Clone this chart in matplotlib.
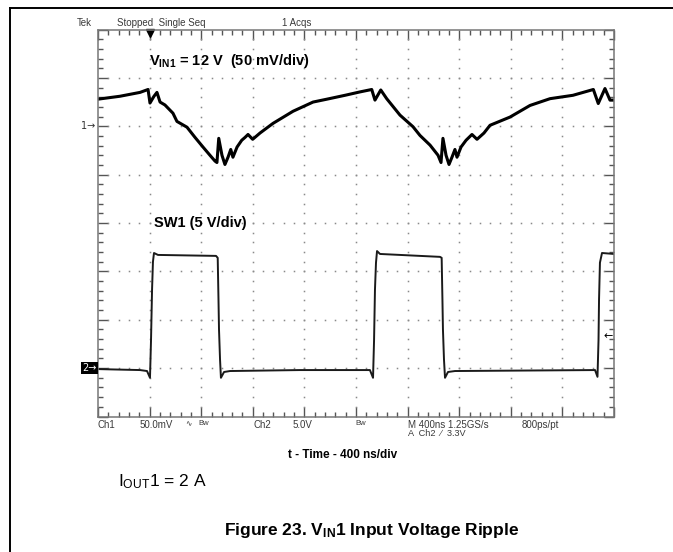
import matplotlib
matplotlib.use("Agg")
import matplotlib.pyplot as plt
from matplotlib.lines import Line2D
import numpy as np

plt.rcParams['font.family'] = ['Liberation Sans', 'DejaVu Sans']
plt.rcParams['mathtext.fontset'] = 'custom'
plt.rcParams['mathtext.rm'] = 'Liberation Sans'
plt.rcParams['mathtext.bf'] = 'Liberation Sans:bold'

# scope settings
t_div = 400.0      # ns/div
ch1_div = 50.0     # mV/div
ch2_div = 5.0      # V/div
ch1_ref = 6.0      # ground marker position (div from bottom)
ch2_ref = 1.0
trig_level = 3.3   # V
trig_pos = 400.0   # ns

# CH1: VIN1 ripple (ns, mV relative to marker)
ch1_t = [0, 170, 326, 388, 403, 434, 457, 481, 519, 581, 612, 690, 752, 814, 868,
         907, 922, 936, 961, 984, 1008, 1029, 1046, 1078, 1114, 1140, 1163, 1199,
         1256, 1357, 1512, 1667, 1775, 1915, 2031, 2122, 2147, 2192, 2238, 2341,
         2442, 2496, 2574, 2636, 2659, 2674, 2698, 2721, 2744, 2767, 2783, 2814,
         2853, 2899, 2938, 2992, 3039, 3194, 3349, 3504, 3682, 3840, 3878, 3930,
         3969, 4000]
ch1_mv = [28, 31, 35, 38, 24, 31, 35, 25, 22, 13.5, 5, -1, -11.5, -21.5, -30,
          -36, -37.5, -12.5, -30, -39.5, -32, -24, -32, -21.5, -14.5, -11.5, -8.5,
          -13.5, -7, 3, 15.5, 25, 28, 32, 35.5, 38, 27, 37.5, 28.5, 11.5,
          -0.5, -9.5, -19.5, -30, -37.5, -12.5, -30, -39.5, -32, -24, -32, -21.5,
          -14.5, -8.5, -13.5, -7, 1, 9.5, 21.5, 28.5, 32, 38, 23.5, 39,
          27, 27]

# CH2: SW1 node (ns, V)
ch2_t = [0, 326, 380, 403, 411, 419, 426, 434, 465, 915, 928, 934, 938, 946, 953,
         977, 1023, 1566, 2108, 2132, 2140, 2147, 2155, 2163, 2186, 2651, 2664,
         2670, 2674, 2682, 2690, 2713, 2767, 3853, 3872, 3880, 3884, 3891, 3907, 4000]
ch2_v = [-0.1, -0.2, -0.3, -1.0, 2.9, 8.1, 11.0, 11.9, 11.7, 11.6, 11.4, 7.1, 4.0, 0.9, -1.0,
         -0.4, -0.3, -0.2, -0.2, -1.0, 2.9, 8.1, 10.9, 12.1, 11.8, 11.5, 11.4,
         7.1, 4.0, 0.9, -1.0, -0.4, -0.3, -0.2, -0.9, 2.9, 7.1, 10.9, 11.9, 11.8]

W, H = 673, 552


def px(x, y):
    return x / W, 1 - y / H


fig = plt.figure(figsize=(W / 100, H / 100), dpi=100)
fig.add_artist(Line2D([10 / W, 1], [1 - 8 / H] * 2, color='black', lw=1.4))
fig.add_artist(Line2D([10 / W] * 2, [1 - 8 / H, 0], color='black', lw=1.4))

left, top, right, bottom = 98, 29.5, 614, 416.5
ax = fig.add_axes([left / W, 1 - bottom / H, (right - left) / W, (bottom - top) / H])
ax.set_xlim(0, 10)
ax.set_ylim(0, 8)
for s in ax.spines.values():
    s.set_color('#777777')
    s.set_linewidth(1.1)
ax.set_xticks(np.arange(0, 11, 1))
ax.set_yticks(np.arange(0, 9, 1))
ax.set_xticks(np.arange(0, 10.01, 0.2), minor=True)
ax.set_yticks(np.arange(0, 8.01, 0.2), minor=True)
ax.tick_params(which='both', direction='in', top=True, right=True,
               labelbottom=False, labelleft=False, color='#555555', width=1.0)
ax.tick_params(which='major', length=7)
ax.tick_params(which='minor', length=3.5)

# dotted graticule
for gx in range(1, 10):
    yy = np.arange(0.2, 8, 0.2)
    ax.plot(np.full_like(yy, gx), yy, ls='none', marker='s', ms=1.1, color='#8a8a8a', mew=0)
for gy in range(1, 8):
    xx = np.arange(0.2, 10, 0.2)
    ax.plot(xx, np.full_like(xx, gy), ls='none', marker='s', ms=1.1, color='#8a8a8a', mew=0)

ax.plot(np.array(ch2_t) / t_div, ch2_ref + np.array(ch2_v) / ch2_div, color='#1a1a1a', lw=1.4)
ax.plot(np.array(ch1_t) / t_div, ch1_ref + np.array(ch1_mv) / ch1_div, color='black', lw=2.2)

# trigger position marker
ax.plot([trig_pos / t_div], [7.93], marker='v', ms=6, color='black', clip_on=False)

# screen annotations
ax.text(0.98, 8 - 0.65, r'$\mathbf{V_{IN1}}$ = 12 V  (50 mV/div)', fontsize=10.5,
        fontweight='bold', va='center', ha='left')
ax.text(1.08, 4.0, 'SW1 (5 V/div)', fontsize=10.5, fontweight='bold', va='center', ha='left')
ax.text(9.98, ch2_ref + trig_level / ch2_div, '\u2190', fontsize=8, ha='right', va='center',
        family='DejaVu Sans')

fig.text(*px(98, 126), '1\u2192 ', fontsize=7, ha='right', va='center', family='DejaVu Sans',
         color='#333333')
fig.text(*px(97, 368), '2\u2192', fontsize=7, ha='right', va='center', family='DejaVu Sans',
         color='white', bbox=dict(boxstyle='square,pad=0.15', fc='black', ec='none'))

small = dict(fontsize=7.0, color='#3a3a3a', va='center', ha='left')
fig.text(*px(77, 23), 'Tek', **small)
fig.text(*px(117, 23), 'Stopped  Single Seq', **small)
fig.text(*px(282, 23), '1 Acqs', **small)

fig.text(*px(98, 424.5), 'Ch1', **small)
fig.text(*px(140, 424.5), '50.0mV', **small)
fig.text(*px(185, 424.5), '\u223f', fontsize=5.5, color='#3a3a3a', va='center', ha='left')
fig.text(*px(198, 423.5), 'Bw', fontsize=5.5, color='#3a3a3a', va='center', ha='left')
fig.text(*px(253, 424.5), 'Ch2', **small)
fig.text(*px(293, 424.5), '5.0V', **small)
fig.text(*px(355, 423.5), 'Bw', fontsize=5.5, color='#3a3a3a', va='center', ha='left')
fig.text(*px(408, 424.5), 'M 400ns 1.25GS/s', **small)
fig.text(*px(522, 424.5), '800ps/pt', **small)
fig.text(*px(408, 434), 'A  Ch2  \u2215  3.3V', fontsize=6.6, color='#3a3a3a',
         va='center', ha='left')

fig.text(*px(343, 455), 't - Time - 400 ns/div', fontsize=8.5, fontweight='bold',
         ha='center', va='center')
fig.text(*px(118, 482), r'$\mathregular{I_{OUT}}$1 = 2 A', fontsize=12.5, ha='left', va='center')
fig.text(*px(372, 530), r'Figure 23. $\mathbf{V_{IN}}$1 Input Voltage Ripple', fontsize=12.5,
         fontweight='bold', ha='center', va='center')

fig.savefig('out.png', dpi=100)
